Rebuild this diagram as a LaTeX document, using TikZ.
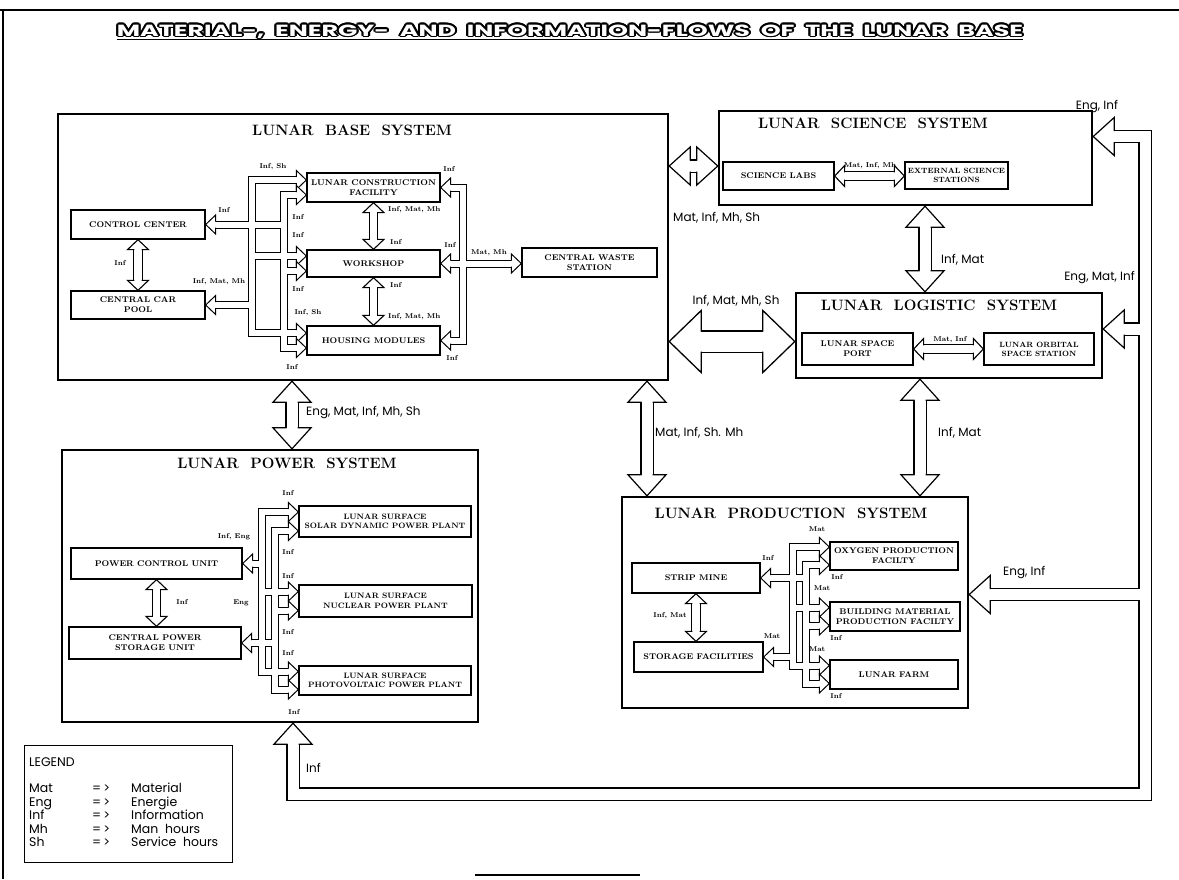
\documentclass[tikz,border=0pt]{standalone}
\usepackage{fontspec}
\usepackage{graphicx}
\usepackage{contour}
\usetikzlibrary{calc}
\newfontfamily\flowfamily{Poppins}
\contourlength{0.8pt}

\begin{document}
\begin{tikzpicture}[x=1pt,y=-1pt,
    sysbox/.style={draw,line width=2.4pt,inner sep=0pt},
    unit/.style={draw,line width=1.3pt,inner sep=0pt,align=center,
      font=\fontsize{8.3}{9.8}\selectfont\bfseries},
    sz/.style 2 args={minimum width=#1pt,minimum height=#2pt},
    systitle/.style={inner sep=0pt,font=\fontsize{15}{18}\selectfont\bfseries},
    tag/.style={inner sep=0pt,font=\fontsize{7}{8}\selectfont\bfseries},
    flow/.style={inner sep=0pt,font=\flowfamily\fontsize{12}{14}\selectfont},
    hugehead/.pic={
      \fill[white] (0,0) -- (-32,-31) -- (-32,31) -- cycle;
      \draw[line width=1.3pt] (-32,-10) -- (-32,-31) -- (0,0) -- (-32,31) -- (-32,10);
    },
    bighead/.pic={
      \fill[white] (0,0) -- (-21,-19) -- (-21,19) -- cycle;
      \draw[line width=1.2pt] (-21,-5.5) -- (-21,-19) -- (0,0) -- (-21,19) -- (-21,5.5);
    },
    midhead/.pic={
      \fill[white] (0,0) -- (-10,-10.5) -- (-10,10.5) -- cycle;
      \draw[line width=1.1pt] (-10,-3.7) -- (-10,-10.5) -- (0,0) -- (-10,10.5) -- (-10,3.7);
    },
    smallhead/.pic={
      \fill[white] (0,0) -- (-10,-9.5) -- (-10,9.5) -- cycle;
      \draw[line width=1pt] (-10,-3) -- (-10,-9.5) -- (0,0) -- (-10,9.5) -- (-10,3);
    }]
\useasboundingbox (0,0) rectangle (1179,879);

% page frame
\draw[line width=1.2pt] (0,10) -- (1179,10);
\draw[line width=1.2pt] (3,10) -- (3,879);
\draw[line width=1.2pt] (475,875) -- (640,875);

% title
\node[inner sep=0pt] (title) at (570,32)
  {\resizebox{906pt}{11.5pt}{\flowfamily\bfseries\textcolor{white}{\contour{black}{MATERIAL-,\ \ ENERGY-\ \ AND\ \ INFORMATION-FLOWS\ \ OF\ \ THE\ \ LUNAR\ \ BASE}}}};
\draw[line width=1.8pt] ($(title.base west)+(0,3.5)$) -- ($(title.base east)+(0,3.5)$);

% systems
\node[sysbox,sz={610}{266}] (lbs) at (363,247) {};
\node[sysbox,sz={373}{94}] (sci) at (905.5,158) {};
\node[sysbox,sz={306}{85}] (logi) at (949,335.5) {};
\node[sysbox,sz={416}{272}] (pow) at (270,586) {};
\node[sysbox,sz={346}{211}] (prod) at (795,602.5) {};
\node[systitle] (lbst) at (352,130) {LUNAR\ \ BASE\ \ SYSTEM};
\node[systitle] (scit) at (873,123) {LUNAR\ \ SCIENCE\ \ SYSTEM};
\node[systitle] (logit) at (939,305) {LUNAR\ \ LOGISTIC\ \ SYSTEM};
\node[systitle] (powt) at (287,463) {LUNAR\ \ POWER\ \ SYSTEM};
\node[systitle] (prodt) at (791,513) {LUNAR\ \ PRODUCTION\ \ SYSTEM};

% units of the lunar base
\node[unit,sz={134}{29}] (cc) at (138,224.5) {CONTROL CENTER};
\node[unit,sz={134}{28}] (ccp) at (138,305) {CENTRAL CAR\\POOL};
\node[unit,sz={133}{29}] (lcf) at (373.5,187.5) {LUNAR CONSTRUCTION\\FACILITY};
\node[unit,sz={133}{27}] (ws) at (373.5,263.5) {WORKSHOP};
\node[unit,sz={133}{29}] (hm) at (373.5,340.5) {HOUSING MODULES};
\node[unit,sz={135}{29}] (cws) at (589.5,262.5) {CENTRAL WASTE\\STATION};
% science and logistic
\node[unit,sz={111}{28}] (sl) at (778.5,176) {SCIENCE LABS};
\node[unit,sz={103}{27},font=\fontsize{7.6}{9}\selectfont\bfseries] (ess) at (956.5,175.5) {EXTERNAL SCIENCE\\STATIONS};
\node[unit,sz={111}{32}] (lsp) at (857.5,349) {LUNAR SPACE\\PORT};
\node[unit,sz={110}{32},font=\fontsize{7.6}{9}\selectfont\bfseries] (loss) at (1039,349) {LUNAR ORBITAL\\SPACE STATION};
% power
\node[unit,sz={171}{31}] (pcu) at (156.5,563.5) {POWER CONTROL UNIT};
\node[unit,sz={172}{32}] (cpsu) at (155,643) {CENTRAL POWER\\STORAGE UNIT};
\node[unit,sz={172}{31},font=\fontsize{7.8}{9.5}\selectfont\bfseries] (sdpp) at (385,521.5) {LUNAR SURFACE\\SOLAR DYNAMIC POWER PLANT};
\node[unit,sz={173}{32},font=\fontsize{7.8}{9.5}\selectfont\bfseries] (npp) at (385.5,601) {LUNAR SURFACE\\NUCLEAR POWER PLANT};
\node[unit,sz={172}{29},font=\fontsize{7.8}{9.5}\selectfont\bfseries] (pvpp) at (385,680.5) {LUNAR SURFACE\\PHOTOVOLTAIC POWER PLANT};
% production
\node[unit,sz={128}{30}] (sm) at (696,578) {STRIP MINE};
\node[unit,sz={129}{30}] (sf) at (698.5,657) {STORAGE FACILITIES};
\node[unit,sz={128}{28}] (opf) at (894,556) {OXYGEN PRODUCTION\\FACILTY};
\node[unit,sz={130}{29}] (bmpf) at (895,616.5) {BUILDING MATERIAL\\PRODUCTION FACILTY};
\node[unit,sz={128}{29}] (lf) at (894,674.5) {LUNAR FARM};

% bus lines and arrow tips
\coordinate (b1) at (252,0);
\coordinate (b2) at (284,0);
\coordinate (b3) at (463,0);
\coordinate (p2) at (262,0);
\coordinate (p3) at (275,0);
\coordinate (q1) at (793,0);
\coordinate (q2) at (806,0);
\coordinate (loop) at (1145,794);
\coordinate (lcfa) at ($(lcf.west)+(0,-7.5)$);
\coordinate (lcfb) at ($(lcf.west)+(0,7.5)$);
\coordinate (wsa) at ($(ws.west)+(0,-7.5)$);
\coordinate (wsb) at ($(ws.west)+(0,7.5)$);
\coordinate (hma) at ($(hm.west)+(0,-7.5)$);
\coordinate (hmb) at ($(hm.west)+(0,7.5)$);
\coordinate (cwsw) at (ws.east -| cws.west);
\coordinate (sdppa) at ($(sdpp.west)+(0,-9.5)$);
\coordinate (sdppb) at ($(sdpp.west)+(0,9.5)$);
\coordinate (nppa) at ($(npp.west)+(0,-9.5)$);
\coordinate (nppb) at ($(npp.west)+(0,9.5)$);
\coordinate (pvppa) at ($(pvpp.west)+(0,-9)$);
\coordinate (pvppb) at ($(pvpp.west)+(0,9)$);
\coordinate (opfa) at ($(opf.west)+(0,-9)$);
\coordinate (opfb) at ($(opf.west)+(0,9)$);
\coordinate (bmpfa) at ($(bmpf.west)+(0,-9)$);
\coordinate (bmpfb) at ($(bmpf.west)+(0,9)$);
\coordinate (lfa) at ($(lf.west)+(0,-9)$);
\coordinate (lfb) at ($(lf.west)+(0,9)$);
\coordinate (essl) at (sl.east -| ess.west);
\coordinate (lossl) at (lsp.east -| loss.west);
\coordinate (cpsun) at (pcu.south |- cpsu.north);
\coordinate (sfn) at (sm.south |- sf.north);
\coordinate (bp1) at (292,0 |- lbs.south);
\coordinate (bp2) at (292,0 |- pow.north);
\coordinate (bs1) at (0,166 -| lbs.east);
\coordinate (bs2) at (0,166 -| sci.west);
\coordinate (bl1) at (0,341.5 -| lbs.east);
\coordinate (bl2) at (0,341.5 -| logi.west);
\coordinate (scl1) at (925,0 |- sci.south);
\coordinate (scl2) at (925,0 |- logi.north);
\coordinate (bpr1) at (647,0 |- lbs.south);
\coordinate (bpr2) at (647,0 |- prod.north);
\coordinate (lp1) at (920,0 |- logi.south);
\coordinate (lp2) at (920,0 |- prod.north);
\coordinate (esci) at (0,136.5 -| sci.east);
\coordinate (elog) at (0,329 -| logi.east);
\coordinate (eprod) at (0,594.5 -| prod.east);
\coordinate (epow) at (293,0 |- pow.south);

% wide flows between the systems
\foreach \c/\w in {black/13.4,white/11}{
  \begin{scope}[color=\c,line width=\w pt,shorten <=10pt,shorten >=10pt]
    \draw (bp1) -- (bp2);
    \draw (bs1) -- (bs2);
    \draw (scl1) -- (scl2);
    \draw (bpr1) -- (bpr2);
    \draw (lp1) -- (lp2);
    \draw (esci) -| (loop) -| (epow);
    \draw[shorten >=0pt] (elog) -- (loop |- elog);
    \draw[shorten >=0pt] (eprod) -- (loop |- eprod);
  \end{scope}
}
\foreach \c/\w in {black/22.6,white/20}
  \draw[color=\c,line width=\w pt,shorten <=16pt,shorten >=16pt] (bl1) -- (bl2);
% double arrows between units
\foreach \c/\w in {black/9.6,white/7.4}{
  \begin{scope}[color=\c,line width=\w pt,shorten <=5pt,shorten >=5pt]
    \draw (lcf.south) -- (ws.north);
    \draw (ws.south) -- (hm.north);
    \draw (cc.south) -- (ccp.north);
    \draw (sl.east) -- (essl);
    \draw (lsp.east) -- (lossl);
    \draw (pcu.south) -- (cpsun);
    \draw (sm.south) -- (sfn);
  \end{scope}
}
% internal lines
\foreach \c/\w in {black/8,white/6}{
  \begin{scope}[color=\c,line width=\w pt]
    % lunar base
    \draw[shorten <=5pt] (cc.east) -- (b2 |- cc.east);
    \draw[shorten <=5pt,shorten >=5pt] (ccp.east) -| (b1 |- lcfa) -- (lcfa);
    \draw[shorten >=5pt] (b1 |- ccp.east) |- (hma);
    \draw[shorten >=5pt] (b1 |- wsa) -- (wsa);
    \draw[shorten <=5pt,shorten >=5pt] (lcfb) -| (b2 |- hmb) -- (hmb);
    \draw[shorten >=5pt] (b2 |- wsb) -- (wsb);
    \draw[shorten <=5pt,shorten >=5pt] (lcf.east) -| (b3 |- hm.east) -- (hm.east);
    \draw[shorten <=5pt,shorten >=5pt] (ws.east) -- (cwsw);
    % power
    \draw[shorten <=5pt] (pcu.east) -- (p2 |- pcu.east);
    \draw[shorten <=5pt] (cpsu.east) -- (p3 |- cpsu.east);
    \draw[shorten <=5pt,shorten >=5pt] (sdppa) -| (p2 |- pvppa) -- (pvppa);
    \draw[shorten >=5pt] (p2 |- nppa) -- (nppa);
    \draw[shorten <=5pt,shorten >=5pt] (sdppb) -| (p3 |- pvppb) -- (pvppb);
    \draw[shorten >=5pt] (p3 |- nppb) -- (nppb);
    % production
    \draw[shorten <=5pt] (sm.east) -- (q2 |- sm.east);
    \draw[shorten <=5pt] (sf.east) -- (q1 |- sf.east);
    \draw[shorten <=5pt,shorten >=5pt] (opfa) -| (q1 |- lfa) -- (lfa);
    \draw[shorten >=5pt] (q1 |- bmpfa) -- (bmpfa);
    \draw[shorten <=5pt,shorten >=5pt] (opfb) -| (q2 |- lfb) -- (lfb);
    \draw[shorten >=5pt] (q2 |- bmpfb) -- (bmpfb);
  \end{scope}
}

% arrow heads
\pic[rotate=180] at (bl1) {hugehead};
\pic at (bl2) {hugehead};
\foreach \t/\r in {bp1/90,bp2/-90,bs1/180,bs2/0,scl1/90,scl2/-90,
    bpr1/90,bpr2/-90,lp1/90,lp2/-90,esci/180,elog/180,eprod/180,epow/90}
  \pic[rotate=\r] at (\t) {bighead};
\foreach \t/\r in {lcf.south/90,ws.north/-90,ws.south/90,hm.north/-90,cc.south/90,ccp.north/-90,
    sl.east/180,essl/0,lsp.east/180,lossl/0,pcu.south/90,cpsun/-90,sm.south/90,sfn/-90}
  \pic[rotate=\r] at (\t) {midhead};
\foreach \t/\r in {cc.east/180,ccp.east/180,lcfa/0,lcfb/0,wsa/0,wsb/0,hma/0,hmb/0,
    lcf.east/180,ws.east/180,hm.east/180,cwsw/0,
    pcu.east/180,cpsu.east/180,sdppa/0,sdppb/0,nppa/0,nppb/0,pvppa/0,pvppb/0,
    sm.east/180,sf.east/180,opfa/0,opfb/0,bmpfa/0,bmpfb/0,lfa/0,lfb/0}
  \pic[rotate=\r] at (\t) {smallhead};

% small flow labels
\node[tag] (ccinf) at (224,210) {Inf};
\node[tag] (ccpinf) at (219,282) {Inf, Mat, Mh};
\node[tag] (ccccp) at (120,263) {Inf};
\node[tag] (lcfa1) at (273,167) {Inf, Sh};
\node[tag] (lcfb1) at (298,217) {Inf};
\node[tag] (wsa1) at (298,235) {Inf};
\node[tag] (wsb1) at (298,289) {Inf};
\node[tag] (hma1) at (308,313) {Inf, Sh};
\node[tag] (hmb1) at (292,367) {Inf};
\node[tag,anchor=west] (lw1) at (388,210) {Inf, Mat, Mh};
\node[tag,anchor=west] (lw2) at (390,242) {Inf};
\node[tag,anchor=west] (wh1) at (390,285) {Inf};
\node[tag,anchor=west] (wh2) at (388,317) {Inf, Mat, Mh};
\node[tag] (lcfr) at (449,169) {Inf};
\node[tag] (wsr) at (450,245) {Inf};
\node[tag] (hmr) at (452,358) {Inf};
\node[tag] (cwsl) at (489,253) {Mat, Mh};
\node[tag] (slinf) at (870,166) {Mat, Inf, Mh};
\node[tag] (lspinf) at (950,340) {Mat, Inf};
\node[tag] (pcuinf) at (234,537) {Inf, Eng};
\node[tag] (cpsueng) at (241,603) {Eng};
\node[tag] (pcucp) at (182,602) {Inf};
\node[tag] (sdppa1) at (288,493) {Inf};
\node[tag] (sdppb1) at (288,552) {Inf};
\node[tag] (nppa1) at (288,576) {Inf};
\node[tag] (nppb1) at (288,632) {Inf};
\node[tag] (pvppa1) at (288,653) {Inf};
\node[tag] (pvppb1) at (294,712) {Inf};
\node[tag] (sminf) at (768,558) {Inf};
\node[tag] (sfmat) at (772,636) {Mat};
\node[tag] (opfa1) at (817,529) {Mat};
\node[tag] (opfb1) at (837,577) {Inf};
\node[tag] (bmpfa1) at (822,588) {Mat};
\node[tag] (bmpfb1) at (836,638) {Inf};
\node[tag] (lfa1) at (817,649) {Mat};
\node[tag] (lfb1) at (836,696) {Inf};
\node[tag] (smsf) at (670,616) {Inf, Mat};

% flows between systems
\node[flow,anchor=west] (fbp) at (306,413) {Eng, Mat, Inf, Mh, Sh};
\node[flow,anchor=west] (fbs) at (673,218) {Mat, Inf, Mh, Sh};
\node[flow] (fbl) at (736,301) {Inf, Mat, Mh, Sh};
\node[flow,anchor=west] (fsl) at (941,260) {Inf, Mat};
\node[flow,anchor=west] (fbpr) at (655,433) {Mat, Inf, Sh. Mh};
\node[flow,anchor=west] (flp) at (938,433) {Inf, Mat};
\node[flow] (fsci) at (1097,107) {Eng, Inf};
\node[flow,anchor=east] (flog) at (1135,278) {Eng, Mat, Inf};
\node[flow,anchor=west] (fprod) at (1003,573) {Eng, Inf};
\node[flow,anchor=west] (fpow) at (306,768) {Inf};

% legend
\node[draw,line width=1pt,sz={208}{117},anchor=north west] (legend) at (24,745) {};
\node[anchor=north west,inner sep=0pt,font=\flowfamily\fontsize{12.5}{13.3}\selectfont] (legtxt)
  at ($(legend.north west)+(5,12)$)
  {\begin{tabular}{@{}p{63pt}@{}p{39pt}@{}l@{}}
    \multicolumn{3}{@{}l@{}}{LEGEND}\\[12.7pt]
    Mat & =\,> & Material\\
    Eng & =\,> & Energie\\
    Inf & =\,> & Information\\
    Mh & =\,> & Man\ \ hours\\
    Sh & =\,> & Service\ \ hours
  \end{tabular}};
\end{tikzpicture}
\end{document}
